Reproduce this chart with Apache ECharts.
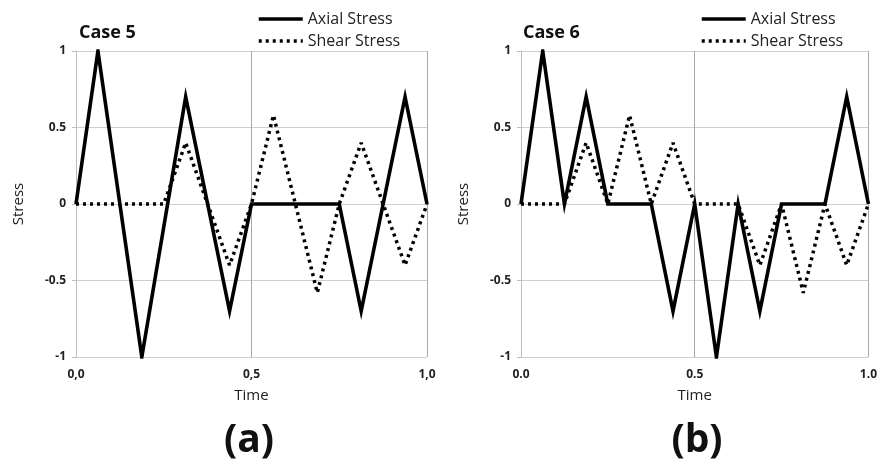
<!DOCTYPE html>
<html>
<head>
<meta charset="utf-8">
<script src="https://cdn.jsdelivr.net/npm/echarts@6/dist/echarts.min.js"></script>
<style>
html,body{margin:0;padding:0;background:#fff;}
#chart{width:880px;height:464px;}
</style>
</head>
<body>
<div id="chart"></div>
<script>
// Case 5
const case5AxialTime = [0, 0.0625, 0.1875, 0.3125, 0.4375, 0.5, 0.75, 0.8125, 0.9375, 1.0];
const case5Axial     = [0, 1, -1, 0.7, -0.7, 0, 0, -0.7, 0.7, 0];
const case5ShearTime = [0, 0.25, 0.3125, 0.4375, 0.5, 0.5625, 0.6875, 0.75, 0.8125, 0.9375, 1.0];
const case5Shear     = [0, 0, 0.4, -0.4, 0, 0.58, -0.58, 0, 0.4, -0.4, 0];
// Case 6
const case6AxialTime = [0, 0.0625, 0.125, 0.1875, 0.25, 0.375, 0.4375, 0.5, 0.5625, 0.625, 0.6875, 0.75, 0.875, 0.9375, 1.0];
const case6Axial     = [0, 1, 0, 0.7, 0, 0, -0.7, 0, -1, 0, -0.7, 0, 0, 0.7, 0];
const case6ShearTime = [0, 0.125, 0.1875, 0.25, 0.3125, 0.375, 0.4375, 0.5, 0.625, 0.6875, 0.75, 0.8125, 0.875, 0.9375, 1.0];
const case6Shear     = [0, 0, 0.4, 0, 0.58, 0, 0.4, 0, 0, -0.4, 0, -0.58, 0, -0.4, 0];
// Tick labels
const xTicksLeft  = {0: '0,0', 0.5: '0,5', 1: '1,0'};
const xTicksRight = {0: '0.0', 0.5: '0.5', 1: '1.0'};
const yTicks = {'-1': '-1', '-0.5': '-0.5', '0': '0', '0.5': '0.5', '1': '1'};
const seriesNames = ['Axial Stress', 'Shear Stress'];
const caseTitles = ['Case 5', 'Case 6'];
const panelLabels = ['(a)', '(b)'];

const FONT = '"Open Sans", "Noto Sans", sans-serif';
const zip = (t, v) => t.map((x, i) => [x, v[i]]);

function xAxis(idx, labels) {
  return {
    type: 'value', gridIndex: idx, min: 0, max: 1, interval: 0.5,
    name: 'Time', nameLocation: 'middle', nameGap: 31,
    nameTextStyle: {fontFamily: FONT, fontSize: 15, color: '#222'},
    axisLine: {show: false}, axisTick: {show: false},
    axisLabel: {margin: 12, fontFamily: FONT, fontSize: 12, fontWeight: 'bold', color: '#222',
      formatter: v => labels[v] !== undefined ? labels[v] : ''},
    splitLine: {show: true, lineStyle: {color: '#a8a8a8', width: 1}}
  };
}
function yAxis(idx) {
  return {
    type: 'value', gridIndex: idx, min: -1, max: 1, interval: 0.5,
    name: 'Stress', nameLocation: 'middle', nameGap: 50,
    nameTextStyle: {fontFamily: FONT, fontSize: 15, color: '#222'},
    axisLine: {show: true, onZero: false, lineStyle: {color: '#bdbdbd', width: 1}},
    axisTick: {show: true, length: 4, lineStyle: {color: '#bdbdbd'}},
    axisLabel: {margin: 10, fontFamily: FONT, fontSize: 12, fontWeight: 'bold', color: '#222',
      formatter: v => yTicks[String(v)] !== undefined ? yTicks[String(v)] : ''},
    splitLine: {show: true, lineStyle: {color: '#cfcfcf', width: 1}}
  };
}
function axialSeries(idx, data) {
  return {name: seriesNames[0], type: 'line', xAxisIndex: idx, yAxisIndex: idx, data: data,
    symbol: 'none', z: 3, animation: false,
    lineStyle: {color: '#000', width: 3.6, join: 'miter'}, itemStyle: {color: '#000'}};
}
function shearSeries(idx, data) {
  return {name: seriesNames[1], type: 'line', xAxisIndex: idx, yAxisIndex: idx, data: data,
    symbol: 'none', z: 2, animation: false,
    lineStyle: {color: '#000', width: 3.5, type: [3, 4]}, itemStyle: {color: '#000'}};
}
function legend(left) {
  return {
    data: seriesNames, orient: 'vertical', left: left, top: 9, itemWidth: 44, itemHeight: 2,
    itemGap: 2, padding: 0,
    itemStyle: {opacity: 0},
    lineStyle: {width: 3.5},
    textStyle: {fontFamily: FONT, fontSize: 16, color: '#222', lineHeight: 20},
    selectedMode: false
  };
}

const chart = echarts.init(document.getElementById('chart'), null, {renderer: 'canvas'});
chart.setOption({
  backgroundColor: '#fff',
  animation: false,
  title: [
    {text: caseTitles[0], left: 74, top: 19, textStyle: {fontFamily: FONT, fontSize: 18, fontWeight: 'bold', color: '#111'}},
    {text: caseTitles[1], left: 518, top: 19, textStyle: {fontFamily: FONT, fontSize: 18, fontWeight: 'bold', color: '#111'}},
    {text: panelLabels[0], left: 244, top: 416, textAlign: 'center', textStyle: {fontFamily: FONT, fontSize: 39, fontWeight: 'bold', color: '#111'}},
    {text: panelLabels[1], left: 692, top: 416, textAlign: 'center', textStyle: {fontFamily: FONT, fontSize: 39, fontWeight: 'bold', color: '#111'}}
  ],
  legend: [legend(257), legend(700)],
  grid: [
    {left: 76, right: 453, top: 51, bottom: 107},
    {left: 521, right: 8, top: 51, bottom: 107}
  ],
  xAxis: [xAxis(0, xTicksLeft), xAxis(1, xTicksRight)],
  yAxis: [yAxis(0), yAxis(1)],
  series: [
    axialSeries(0, zip(case5AxialTime, case5Axial)),
    shearSeries(0, zip(case5ShearTime, case5Shear)),
    axialSeries(1, zip(case6AxialTime, case6Axial)),
    shearSeries(1, zip(case6ShearTime, case6Shear))
  ]
});
</script>
</body>
</html>
